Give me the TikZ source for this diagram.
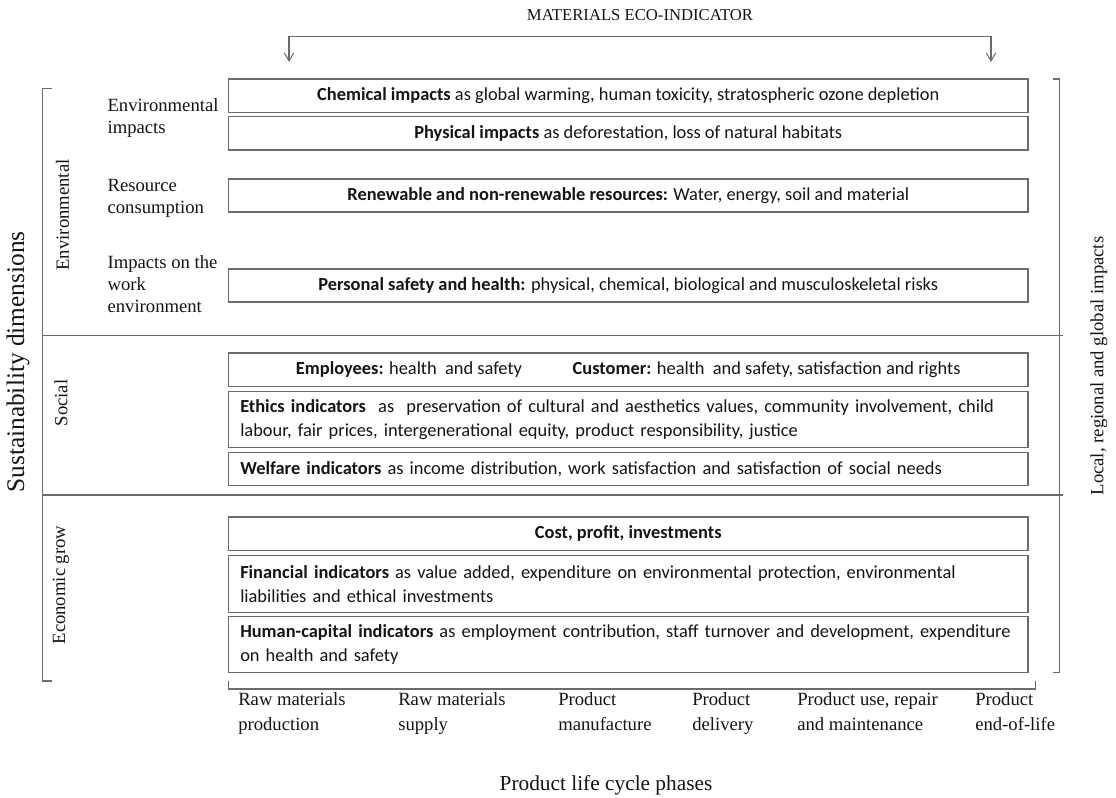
\documentclass[tikz,border=0pt]{standalone}
\usepackage{fontspec}
\setmainfont{Liberation Serif}
\newfontfamily\calibfont{Carlito}
\usetikzlibrary{arrows.meta}
\definecolor{lc}{gray}{0.42}
\definecolor{tc}{gray}{0.08}
\tikzset{
 box/.style={draw=lc, line width=1pt, minimum width=599.6pt, inner sep=0pt, font=\calibfont\fontsize{13.8}{18}\selectfont, text=tc},
 cbox/.style={box, align=center},
 lbox/.style={box, text width=582pt, align=left, inner xsep=8.8pt},
 lab/.style={font=\fontsize{14}{16.5}\selectfont, align=left, inner sep=0pt, anchor=west, text=tc},
 phase/.style={font=\fontsize{14}{18.5}\selectfont, align=left, inner sep=0pt, anchor=north west, text=tc},
 rlab/.style={font=\fontsize{14}{16.5}\selectfont, rotate=90, inner sep=0pt, text=tc},
 ln/.style={draw=lc, line width=0.8pt},
 barb/.tip={Straight Barb[length=6pt,width=7pt]},
}
\begin{document}
\begin{tikzpicture}[x=0.75pt,y=-0.75pt]
\useasboundingbox (0,0) rectangle (1116,797);
% title and top arrow
\node[font=\fontsize{12.5}{15}\selectfont, text=tc, inner sep=0pt] (title) at (640,15) {MATERIALS ECO-INDICATOR};
\coordinate (tl) at (289,36.5);
\coordinate (tr) at (991,36.5);
\coordinate (al) at (289,62);
\coordinate (ar) at (991,62);
\draw[ln, barb-barb] (al) -- (tl) -- (tr) -- (ar);
% boxes
\node[cbox, minimum height=25.1pt] (b1) at (628.25,95.75) {\textbf{Chemical impacts} as global warming, human toxicity, stratospheric ozone depletion};
\node[cbox, minimum height=25.1pt] (b2) at (628.25,133.25) {\textbf{Physical impacts} as deforestation, loss of natural habitats};
\node[cbox, minimum height=24.8pt] (b3) at (628.25,195.5) {\textbf{Renewable and non-renewable resources:} Water, energy, soil and material};
\node[cbox, minimum height=24.8pt] (b4) at (628.25,285.5) {\textbf{Personal safety and health:} physical, chemical, biological and musculoskeletal risks};
\node[cbox, minimum height=25.1pt] (b5) at (628.25,369.75) {\textbf{Employees:} health\ \ and safety\hspace{38pt}\textbf{Customer:} health\ \ and safety, satisfaction and rights};
\node[lbox, minimum height=42pt] (b6) at (628.25,419.7) {\mbox{\textbf{Ethics indicators}\ \ as\ \ preservation of cultural and aesthetics values, community involvement, child}\\ \mbox{labour, fair prices, intergenerational equity, product responsibility, justice}};
\node[lbox, minimum height=25.1pt] (b7) at (628.25,469) {\mbox{\textbf{Welfare indicators} as income distribution, work satisfaction and satisfaction of social needs}};
\node[cbox, minimum height=25.3pt] (b8) at (628.25,533.85) {\textbf{Cost, profit, investments}};
\node[lbox, minimum height=42.4pt] (b9) at (628.25,584) {\mbox{\textbf{Financial indicators} as value added, expenditure on environmental protection, environmental}\\ \mbox{liabilities and ethical investments}};
\node[lbox, minimum height=41.7pt] (b10) at (628.25,644.5) {\mbox{\textbf{Human-capital indicators} as employment contribution, staff turnover and development, expenditure}\\ \mbox{on health and safety}};
% separators and brackets
\draw[ln] (42.7,335.5) -- (1063,335.5);
\draw[ln] (42.7,495) -- (1063,495);
\draw[ln] (52,88.3) -- (42.7,88.3) -- (42.7,681) -- (52,681);
\draw[ln] (1053,79) -- (1059.5,79) -- (1059.5,672.5) -- (1053,672.5);
\draw[ln] (228.5,680.5) -- (228.5,689) -- (1035.5,689) -- (1035.5,680.5);
% left labels
\node[lab] (envimp) at (107.3,118.5) {Environmental\\impacts};
\node[lab] (rescon) at (107.3,198) {Resource\\consumption};
\node[lab] (workenv) at (107.3,284) {Impacts on the\\work\\environment};
\node[rlab] (env) at (62.5,215) {Environmental};
\node[rlab] (soc) at (61,403) {Social};
\node[rlab] (eco) at (61,585) {Economic grow};
\node[rlab, font=\fontsize{19}{22}\selectfont] (sust) at (18,362) {Sustainability dimensions};
\node[rlab] (local) at (1099,366) {Local, regional and global impacts};
% phases
\node[phase] (p1) at (238,688) {\strut Raw materials\\production};
\node[phase] (p2) at (398,688) {\strut Raw materials\\supply};
\node[phase] (p3) at (558,688) {\strut Product\\manufacture};
\node[phase] (p4) at (692,688) {\strut Product\\delivery};
\node[phase] (p5) at (797,688) {\strut Product use, repair\\and maintenance};
\node[phase] (p6) at (975,688) {\strut Product\\end-of-life};
\node[font=\fontsize{16}{19}\selectfont, text=tc, inner sep=0pt] (plc) at (606,785) {Product life cycle phases};
\end{tikzpicture}
\end{document}
